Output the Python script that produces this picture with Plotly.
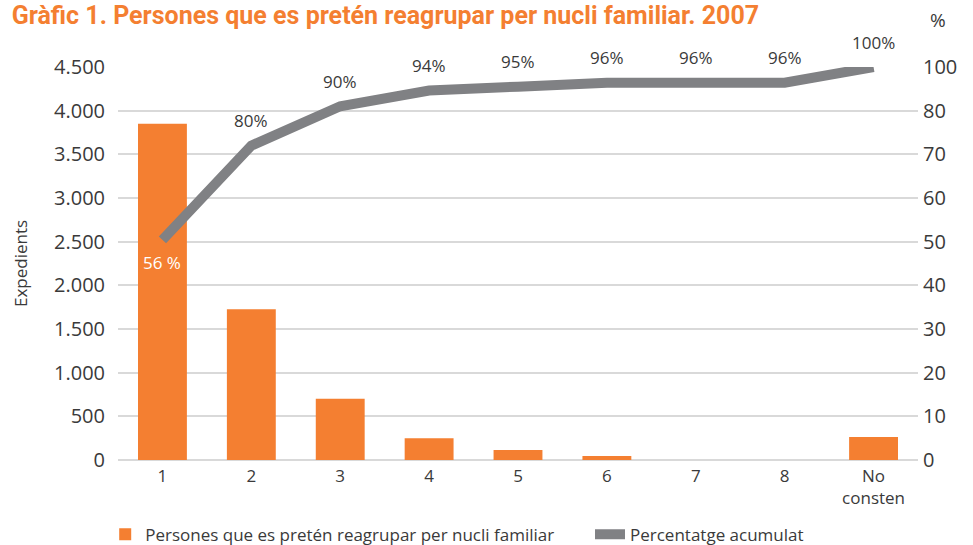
import plotly.graph_objects as go

categories = ["1", "2", "3", "4", "5", "6", "7", "8", "No<br>consten"]
persones = [3850, 1725, 700, 250, 115, 46, 0, 0, 263]
percentatge = [56, 80, 90, 94, 95, 96, 96, 96, 100]
pct_labels = ["56 %", "80%", "90%", "94%", "95%", "96%", "96%", "96%", "100%"]
left_ticks = [0, 500, 1000, 1500, 2000, 2500, 3000, 3500, 4000, 4500]
right_tick_text = ["0", "10", "20", "30", "40", "50", "60", "70", "80", "100"]

ORANGE = "#F47F31"
GRAY = "#808184"
TXT = "#3a3a3a"
FONT = "Open Sans"

fig = go.Figure()
fig.add_trace(go.Bar(
    x=categories, y=persones, name="Persones que es pretén reagrupar per nucli familiar",
    marker=dict(color=ORANGE, line=dict(width=0)), width=0.55, yaxis="y",
    legend="legend",
))
fig.add_trace(go.Scatter(
    x=categories, y=percentatge, name="Percentatge acumulat", mode="lines",
    line=dict(color=GRAY, width=10), yaxis="y2", legend="legend2",
))

for i, (v, t) in enumerate(zip(percentatge, pct_labels)):
    first = i == 0
    fig.add_annotation(
        x=i, y=v, xref="x", yref="y2", text=t, showarrow=False,
        yshift=-23 if first else 25,
        font=dict(family=FONT, size=17, color="white" if first else TXT),
    )

# right axis labels sit on the left-axis gridlines
right_tickvals = [v / left_ticks[-1] * 100 for v in left_ticks]

fig.update_layout(
    width=973, height=545,
    paper_bgcolor="white", plot_bgcolor="white",
    margin=dict(l=118, r=55, t=67, b=85, autoexpand=False),
    separators=",.",
    title=dict(
        text="<b>Gràfic 1. Persones que es pretén reagrupar per nucli familiar. 2007</b>",
        x=0.012, xanchor="left", xref="container",
        y=0.988, yanchor="top", yref="container",
        font=dict(family="Roboto", size=25, color=ORANGE),
    ),
    font=dict(family=FONT, color=TXT),
    xaxis=dict(
        type="category", showgrid=False, showline=False, zeroline=False,
        tickfont=dict(size=17, color=TXT), ticks="", ticklabelstandoff=4,
        automargin=False,
    ),
    yaxis=dict(
        range=[0, 4500], tickvals=left_ticks, tickformat=",d",
        showgrid=True, gridcolor="#d9d9d9", gridwidth=1.5,
        zeroline=True, zerolinecolor="#d9d9d9", zerolinewidth=1.5,
        tickfont=dict(size=20, color=TXT), ticks="", ticklabelstandoff=12,
        automargin=False,
        title=dict(text="Expedients", font=dict(size=17, color=TXT), standoff=22),
    ),
    yaxis2=dict(
        range=[0, 100], overlaying="y", side="right",
        tickvals=right_tickvals, ticktext=right_tick_text,
        showgrid=False, zeroline=False,
        tickfont=dict(size=20, color=TXT), ticks="", ticklabelstandoff=4,
        automargin=False,
    ),
    legend=dict(
        orientation="h", x=-0.016, xanchor="left", y=-0.19, yanchor="middle",
        font=dict(size=17, color=TXT), bgcolor="rgba(0,0,0,0)",
    ),
    legend2=dict(
        orientation="h", x=0.59, xanchor="left", y=-0.19, yanchor="middle",
        font=dict(size=17, color=TXT), bgcolor="rgba(0,0,0,0)",
    ),
    showlegend=True,
)
fig.add_annotation(
    text="%", xref="paper", yref="paper", x=1.0375, y=1.158, showarrow=False,
    font=dict(family=FONT, size=19, color=TXT),
)

fig.write_html("out.html", config={"displayModeBar": False},
               post_script="document.body.style.margin='0';")
